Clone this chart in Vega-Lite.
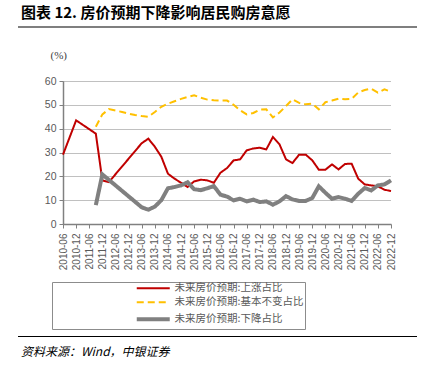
{
  "$schema": "https://vega.github.io/schema/vega-lite/v6.json",
  "background": "white",
  "padding": {"left": 18, "top": 6, "right": 0, "bottom": 0},
  "config": {"view": {"stroke": null}, "legend": {"strokeColor": "#8c8c8c", "strokeWidth": 1}},
  "spacing": 16,
  "resolve": {"legend": {"color": "independent", "strokeDash": "independent"}},
  "vconcat": [
    {
      "width": 399,
      "height": 2,
      "view": {"fill": "#7f7f7f", "stroke": null},
      "title": {"text": "图表 12. 房价预期下降影响居民购房意愿", "anchor": "start", "frame": "group", "dx": 3, "offset": 0, "font": "Noto Sans CJK SC", "fontSize": 15, "fontWeight": "bold", "color": "#000000"},
      "data": {"values": [{}]},
      "mark": "text",
      "encoding": {"text": {"value": ""}}
    },
    {
      "spacing": 0,
      "resolve": {"legend": {"color": "independent", "strokeDash": "independent"}},
      "vconcat": [
        {
          "spacing": 0,
          "resolve": {"legend": {"color": "independent", "strokeDash": "independent"}},
          "hconcat": [
            {
              "width": 1,
              "height": 1,
              "data": {"values": [{}]},
              "mark": "text",
              "encoding": {"text": {"value": ""}}
            },
            {
              "width": 328,
              "height": 143,
              "title": {"text": " ", "anchor": "start", "frame": "group", "dx": -44, "offset": 0, "fontSize": 1},
              "data": {"values": [
                {"date": "2010-06", "series": "未来房价预期:上涨占比", "value": 29.1},
                {"date": "2010-12", "series": "未来房价预期:上涨占比", "value": 43.5},
                {"date": "2011-09", "series": "未来房价预期:上涨占比", "value": 37.9},
                {"date": "2011-12", "series": "未来房价预期:上涨占比", "value": 18.3},
                {"date": "2012-03", "series": "未来房价预期:上涨占比", "value": 17.6},
                {"date": "2013-06", "series": "未来房价预期:上涨占比", "value": 33.9},
                {"date": "2013-09", "series": "未来房价预期:上涨占比", "value": 35.8},
                {"date": "2013-12", "series": "未来房价预期:上涨占比", "value": 32.4},
                {"date": "2014-03", "series": "未来房价预期:上涨占比", "value": 28.2},
                {"date": "2014-06", "series": "未来房价预期:上涨占比", "value": 21.1},
                {"date": "2014-09", "series": "未来房价预期:上涨占比", "value": 19.0},
                {"date": "2014-12", "series": "未来房价预期:上涨占比", "value": 17.3},
                {"date": "2015-03", "series": "未来房价预期:上涨占比", "value": 15.5},
                {"date": "2015-06", "series": "未来房价预期:上涨占比", "value": 17.9},
                {"date": "2015-09", "series": "未来房价预期:上涨占比", "value": 18.6},
                {"date": "2015-12", "series": "未来房价预期:上涨占比", "value": 18.3},
                {"date": "2016-03", "series": "未来房价预期:上涨占比", "value": 17.3},
                {"date": "2016-06", "series": "未来房价预期:上涨占比", "value": 21.5},
                {"date": "2016-09", "series": "未来房价预期:上涨占比", "value": 23.5},
                {"date": "2016-12", "series": "未来房价预期:上涨占比", "value": 26.7},
                {"date": "2017-03", "series": "未来房价预期:上涨占比", "value": 27.1},
                {"date": "2017-06", "series": "未来房价预期:上涨占比", "value": 30.9},
                {"date": "2017-09", "series": "未来房价预期:上涨占比", "value": 31.7},
                {"date": "2017-12", "series": "未来房价预期:上涨占比", "value": 32.0},
                {"date": "2018-03", "series": "未来房价预期:上涨占比", "value": 31.3},
                {"date": "2018-06", "series": "未来房价预期:上涨占比", "value": 36.5},
                {"date": "2018-09", "series": "未来房价预期:上涨占比", "value": 33.4},
                {"date": "2018-12", "series": "未来房价预期:上涨占比", "value": 27.1},
                {"date": "2019-03", "series": "未来房价预期:上涨占比", "value": 25.6},
                {"date": "2019-06", "series": "未来房价预期:上涨占比", "value": 29.1},
                {"date": "2019-09", "series": "未来房价预期:上涨占比", "value": 29.1},
                {"date": "2019-12", "series": "未来房价预期:上涨占比", "value": 26.7},
                {"date": "2020-03", "series": "未来房价预期:上涨占比", "value": 22.8},
                {"date": "2020-06", "series": "未来房价预期:上涨占比", "value": 22.8},
                {"date": "2020-09", "series": "未来房价预期:上涨占比", "value": 25.0},
                {"date": "2020-12", "series": "未来房价预期:上涨占比", "value": 22.9},
                {"date": "2021-03", "series": "未来房价预期:上涨占比", "value": 25.2},
                {"date": "2021-06", "series": "未来房价预期:上涨占比", "value": 25.3},
                {"date": "2021-09", "series": "未来房价预期:上涨占比", "value": 19.0},
                {"date": "2021-12", "series": "未来房价预期:上涨占比", "value": 16.6},
                {"date": "2022-03", "series": "未来房价预期:上涨占比", "value": 16.2},
                {"date": "2022-06", "series": "未来房价预期:上涨占比", "value": 15.8},
                {"date": "2022-09", "series": "未来房价预期:上涨占比", "value": 14.4},
                {"date": "2022-12", "series": "未来房价预期:上涨占比", "value": 13.8},
                {"date": "2011-09", "series": "未来房价预期:基本不变占比", "value": 40.8},
                {"date": "2011-12", "series": "未来房价预期:基本不变占比", "value": 46.0},
                {"date": "2012-03", "series": "未来房价预期:基本不变占比", "value": 48.2},
                {"date": "2012-06", "series": "未来房价预期:基本不变占比", "value": 47.6},
                {"date": "2012-09", "series": "未来房价预期:基本不变占比", "value": 47.0},
                {"date": "2012-12", "series": "未来房价预期:基本不变占比", "value": 46.3},
                {"date": "2013-03", "series": "未来房价预期:基本不变占比", "value": 45.7},
                {"date": "2013-06", "series": "未来房价预期:基本不变占比", "value": 45.3},
                {"date": "2013-09", "series": "未来房价预期:基本不变占比", "value": 45.0},
                {"date": "2013-12", "series": "未来房价预期:基本不变占比", "value": 47.0},
                {"date": "2014-03", "series": "未来房价预期:基本不变占比", "value": 49.2},
                {"date": "2014-06", "series": "未来房价预期:基本不变占比", "value": 50.5},
                {"date": "2014-09", "series": "未来房价预期:基本不变占比", "value": 51.5},
                {"date": "2014-12", "series": "未来房价预期:基本不变占比", "value": 52.5},
                {"date": "2015-03", "series": "未来房价预期:基本不变占比", "value": 53.3},
                {"date": "2015-06", "series": "未来房价预期:基本不变占比", "value": 54.0},
                {"date": "2015-09", "series": "未来房价预期:基本不变占比", "value": 53.0},
                {"date": "2015-12", "series": "未来房价预期:基本不变占比", "value": 52.2},
                {"date": "2016-03", "series": "未来房价预期:基本不变占比", "value": 51.9},
                {"date": "2016-06", "series": "未来房价预期:基本不变占比", "value": 51.8},
                {"date": "2016-09", "series": "未来房价预期:基本不变占比", "value": 51.8},
                {"date": "2016-12", "series": "未来房价预期:基本不变占比", "value": 50.0},
                {"date": "2017-03", "series": "未来房价预期:基本不变占比", "value": 47.7},
                {"date": "2017-06", "series": "未来房价预期:基本不变占比", "value": 46.0},
                {"date": "2017-09", "series": "未来房价预期:基本不变占比", "value": 46.6},
                {"date": "2017-12", "series": "未来房价预期:基本不变占比", "value": 48.0},
                {"date": "2018-03", "series": "未来房价预期:基本不变占比", "value": 48.1},
                {"date": "2018-06", "series": "未来房价预期:基本不变占比", "value": 44.7},
                {"date": "2018-09", "series": "未来房价预期:基本不变占比", "value": 46.8},
                {"date": "2018-12", "series": "未来房价预期:基本不变占比", "value": 49.5},
                {"date": "2019-03", "series": "未来房价预期:基本不变占比", "value": 52.3},
                {"date": "2019-06", "series": "未来房价预期:基本不变占比", "value": 50.8},
                {"date": "2019-09", "series": "未来房价预期:基本不变占比", "value": 50.2},
                {"date": "2019-12", "series": "未来房价预期:基本不变占比", "value": 50.5},
                {"date": "2020-03", "series": "未来房价预期:基本不变占比", "value": 48.1},
                {"date": "2020-06", "series": "未来房价预期:基本不变占比", "value": 51.1},
                {"date": "2020-09", "series": "未来房价预期:基本不变占比", "value": 51.8},
                {"date": "2020-12", "series": "未来房价预期:基本不变占比", "value": 52.6},
                {"date": "2021-03", "series": "未来房价预期:基本不变占比", "value": 52.3},
                {"date": "2021-06", "series": "未来房价预期:基本不变占比", "value": 52.5},
                {"date": "2021-09", "series": "未来房价预期:基本不变占比", "value": 55.2},
                {"date": "2021-12", "series": "未来房价预期:基本不变占比", "value": 56.2},
                {"date": "2022-03", "series": "未来房价预期:基本不变占比", "value": 56.8},
                {"date": "2022-06", "series": "未来房价预期:基本不变占比", "value": 55.1},
                {"date": "2022-09", "series": "未来房价预期:基本不变占比", "value": 56.5},
                {"date": "2022-12", "series": "未来房价预期:基本不变占比", "value": 55.5},
                {"date": "2011-09", "series": "未来房价预期:下降占比", "value": 7.9},
                {"date": "2011-12", "series": "未来房价预期:下降占比", "value": 20.8},
                {"date": "2013-06", "series": "未来房价预期:下降占比", "value": 7.0},
                {"date": "2013-09", "series": "未来房价预期:下降占比", "value": 6.0},
                {"date": "2013-12", "series": "未来房价预期:下降占比", "value": 7.3},
                {"date": "2014-03", "series": "未来房价预期:下降占比", "value": 10.0},
                {"date": "2014-06", "series": "未来房价预期:下降占比", "value": 15.0},
                {"date": "2014-09", "series": "未来房价预期:下降占比", "value": 15.5},
                {"date": "2014-12", "series": "未来房价预期:下降占比", "value": 16.2},
                {"date": "2015-03", "series": "未来房价预期:下降占比", "value": 17.5},
                {"date": "2015-06", "series": "未来房价预期:下降占比", "value": 14.6},
                {"date": "2015-09", "series": "未来房价预期:下降占比", "value": 14.2},
                {"date": "2015-12", "series": "未来房价预期:下降占比", "value": 15.0},
                {"date": "2016-03", "series": "未来房价预期:下降占比", "value": 15.9},
                {"date": "2016-06", "series": "未来房价预期:下降占比", "value": 12.3},
                {"date": "2016-09", "series": "未来房价预期:下降占比", "value": 11.5},
                {"date": "2016-12", "series": "未来房价预期:下降占比", "value": 9.9},
                {"date": "2017-03", "series": "未来房价预期:下降占比", "value": 10.6},
                {"date": "2017-06", "series": "未来房价预期:下降占比", "value": 9.5},
                {"date": "2017-09", "series": "未来房价预期:下降占比", "value": 10.2},
                {"date": "2017-12", "series": "未来房价预期:下降占比", "value": 9.2},
                {"date": "2018-03", "series": "未来房价预期:下降占比", "value": 9.5},
                {"date": "2018-06", "series": "未来房价预期:下降占比", "value": 8.1},
                {"date": "2018-09", "series": "未来房价预期:下降占比", "value": 9.5},
                {"date": "2018-12", "series": "未来房价预期:下降占比", "value": 11.7},
                {"date": "2019-03", "series": "未来房价预期:下降占比", "value": 10.3},
                {"date": "2019-06", "series": "未来房价预期:下降占比", "value": 9.7},
                {"date": "2019-09", "series": "未来房价预期:下降占比", "value": 9.7},
                {"date": "2019-12", "series": "未来房价预期:下降占比", "value": 10.9},
                {"date": "2020-03", "series": "未来房价预期:下降占比", "value": 15.8},
                {"date": "2020-06", "series": "未来房价预期:下降占比", "value": 13.1},
                {"date": "2020-09", "series": "未来房价预期:下降占比", "value": 10.6},
                {"date": "2020-12", "series": "未来房价预期:下降占比", "value": 11.3},
                {"date": "2021-03", "series": "未来房价预期:下降占比", "value": 10.6},
                {"date": "2021-06", "series": "未来房价预期:下降占比", "value": 9.7},
                {"date": "2021-09", "series": "未来房价预期:下降占比", "value": 12.7},
                {"date": "2021-12", "series": "未来房价预期:下降占比", "value": 15.1},
                {"date": "2022-03", "series": "未来房价预期:下降占比", "value": 14.1},
                {"date": "2022-06", "series": "未来房价预期:下降占比", "value": 16.2},
                {"date": "2022-09", "series": "未来房价预期:下降占比", "value": 16.6},
                {"date": "2022-12", "series": "未来房价预期:下降占比", "value": 18.3}
              ]},
              "mark": {"type": "line", "clip": false},
              "encoding": {
                "x": {
                  "field": "date", "type": "temporal",
                  "scale": {"type": "utc", "domain": [{"year": 2010, "month": 6, "date": 1, "utc": true}, {"year": 2022, "month": 12, "date": 1, "utc": true}]},
                  "axis": {
                    "title": null,
                    "values": [
                      {"year": 2010, "month": 6, "date": 1, "utc": true}, {"year": 2010, "month": 12, "date": 1, "utc": true},
                      {"year": 2011, "month": 6, "date": 1, "utc": true}, {"year": 2011, "month": 12, "date": 1, "utc": true},
                      {"year": 2012, "month": 6, "date": 1, "utc": true}, {"year": 2012, "month": 12, "date": 1, "utc": true},
                      {"year": 2013, "month": 6, "date": 1, "utc": true}, {"year": 2013, "month": 12, "date": 1, "utc": true},
                      {"year": 2014, "month": 6, "date": 1, "utc": true}, {"year": 2014, "month": 12, "date": 1, "utc": true},
                      {"year": 2015, "month": 6, "date": 1, "utc": true}, {"year": 2015, "month": 12, "date": 1, "utc": true},
                      {"year": 2016, "month": 6, "date": 1, "utc": true}, {"year": 2016, "month": 12, "date": 1, "utc": true},
                      {"year": 2017, "month": 6, "date": 1, "utc": true}, {"year": 2017, "month": 12, "date": 1, "utc": true},
                      {"year": 2018, "month": 6, "date": 1, "utc": true}, {"year": 2018, "month": 12, "date": 1, "utc": true},
                      {"year": 2019, "month": 6, "date": 1, "utc": true}, {"year": 2019, "month": 12, "date": 1, "utc": true},
                      {"year": 2020, "month": 6, "date": 1, "utc": true}, {"year": 2020, "month": 12, "date": 1, "utc": true},
                      {"year": 2021, "month": 6, "date": 1, "utc": true}, {"year": 2021, "month": 12, "date": 1, "utc": true},
                      {"year": 2022, "month": 6, "date": 1, "utc": true}, {"year": 2022, "month": 12, "date": 1, "utc": true}
                    ],
                    "labelExpr": "utcFormat(datum.value, '%Y-%m')",
                    "labelAngle": 270,
                    "labelFont": "Liberation Sans",
                    "labelFontSize": 10,
                    "labelColor": "#595959",
                    "labelPadding": 5,
                    "labelOverlap": false,
                    "labelFlush": false,
                    "tickSize": 4,
                    "tickColor": "#808080",
                    "domainColor": "#808080",
                    "domainWidth": 1.5,
                    "grid": false
                  }
                },
                "y": {
                  "field": "value", "type": "quantitative",
                  "scale": {"domain": [0, 60], "nice": false, "zero": true},
                  "axis": {
                    "values": [0, 10, 20, 30, 40, 50, 60],
                    "title": "(%)",
                    "titleAngle": 0,
                    "titleX": -13,
                    "titleY": -26,
                    "titleAlign": "left",
                    "titleBaseline": "middle",
                    "titleFont": "Liberation Serif",
                    "titleFontSize": 11,
                    "titleFontWeight": "normal",
                    "titleColor": "#404040",
                    "labelFont": "Liberation Sans",
                    "labelFontSize": 10.5,
                    "labelColor": "#595959",
                    "labelPadding": 3,
                    "tickSize": 4,
                    "tickColor": "#808080",
                    "domainColor": "#808080",
                    "domainWidth": 1.5,
                    "grid": true,
                    "gridColor": "#808080",
                    "gridDash": [1, 1],
                    "gridWidth": 1
                  }
                },
                "color": {
                  "field": "series", "type": "nominal",
                  "scale": {"domain": ["未来房价预期:上涨占比", "未来房价预期:基本不变占比", "未来房价预期:下降占比"], "range": ["#C00000", "#FFC000", "#808080"]},
                  "legend": {
                    "orient": "none",
                    "legendX": -11,
                    "legendY": 201,
                    "direction": "vertical",
                    "title": null,
                    "strokeColor": "#8c8c8c",
                    "padding": 1,
                    "symbolOffset": 95,
                    "symbolType": "M-3,0H3",
                    "symbolSize": 121,
                    "labelFont": "Noto Sans CJK SC",
                    "labelFontSize": 10.5,
                    "labelColor": "#595959",
                    "labelOffset": 16,
                    "rowPadding": 3,
                    "encode": {
                      "legend": {"update": {"stroke": {"value": "#8c8c8c"}, "strokeWidth": {"value": 1}}},
                      "symbols": {"update": {"strokeWidth": {"signal": "datum.value === '未来房价预期:下降占比' ? 4 : 2"}}}
                    }
                  }
                },
                "strokeDash": {
                  "field": "series", "type": "nominal",
                  "scale": {"domain": ["未来房价预期:上涨占比", "未来房价预期:基本不变占比", "未来房价预期:下降占比"], "range": [[1, 0], [7, 4], [1, 0]]}
                },
                "strokeWidth": {
                  "condition": {"test": "datum.series === '未来房价预期:下降占比'", "value": 4},
                  "value": 2
                }
              }
            }
          ]
        },
        {
          "width": 399,
          "height": 1,
          "view": {"fill": "#000000", "stroke": null},
          "title": {"text": "资料来源：Wind，中银证券", "orient": "bottom", "anchor": "start", "frame": "group", "dx": 3, "offset": 5, "font": "Noto Sans CJK SC", "fontSize": 12, "fontStyle": "italic", "fontWeight": "normal", "color": "#000000"},
          "data": {"values": [{}]},
          "mark": "text",
          "encoding": {"text": {"value": ""}}
        }
      ]
    }
  ]
}
